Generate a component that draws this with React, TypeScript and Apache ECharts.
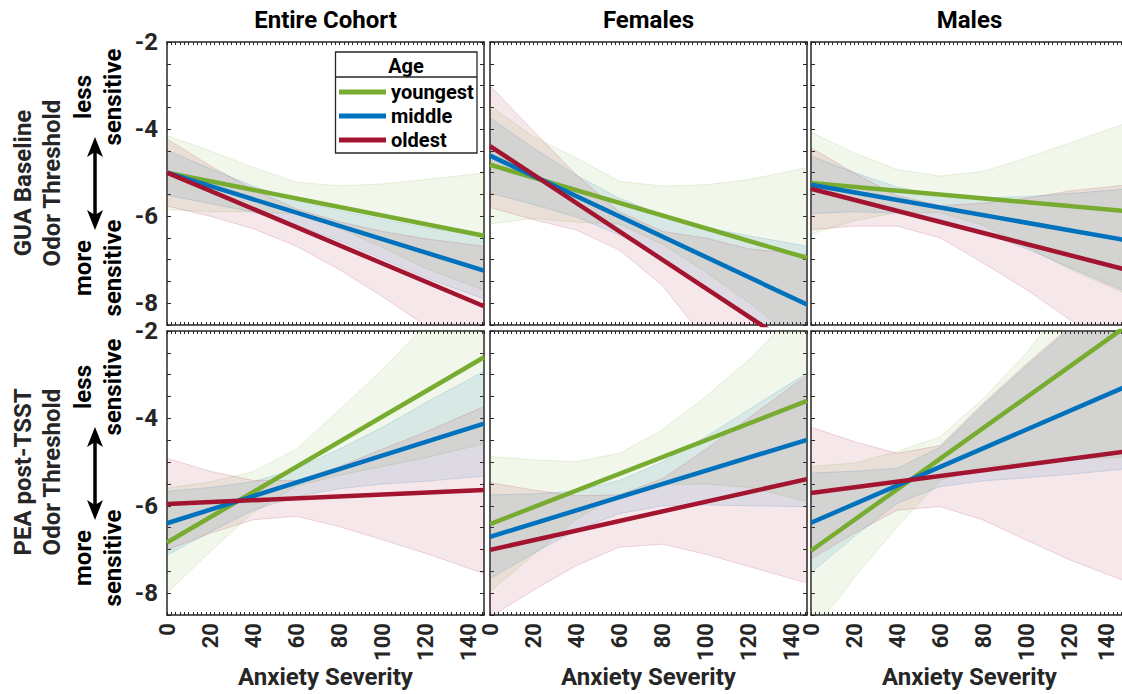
import React, { useEffect, useRef } from 'react';
import * as echarts from 'echarts';

// ---------------- data ----------------
const X_MIN = 0;
const X_MAX = 147;
const Y_MIN = -8.5;
const Y_MAX = -2;
const LINE_X = [0, 147];
const BAND_X = [0, 20, 40, 60, 80, 100, 120, 147];
const GROUPS = ['youngest', 'middle', 'oldest'];
const COLUMN_TITLES = ['Entire Cohort', 'Females', 'Males'];
const ROW_LABELS = ['GUA Baseline\nOdor Threshold', 'PEA post-TSST\nOdor Threshold'];
const UP_LABEL = 'less\nsensitive';
const DOWN_LABEL = 'more\nsensitive';
const LEGEND_TITLE = 'Age';
const X_AXIS_NAME = 'Anxiety Severity';
const X_TICK_LABELS = [0, 20, 40, 60, 80, 100, 120, 140];
const Y_TICK_LABELS = [-8, -6, -4, -2];

// fitted lines: [value at x=0, value at x=147] for youngest, middle, oldest
const GUA_ALL_LINES = [[-5.0, -6.45], [-5.0, -7.25], [-5.0, -8.07]];
const GUA_ALL_UPPER = [
  [-4.15, -4.5, -4.88, -5.22, -5.3, -5.26, -5.16, -5.01],
  [-4.48, -4.91, -5.31, -5.64, -5.87, -6.07, -6.26, -6.46],
  [-4.23, -4.84, -5.39, -5.83, -6.13, -6.35, -6.52, -6.69],
];
const GUA_ALL_LOWER = [
  [-5.85, -5.9, -5.9, -5.95, -6.28, -6.72, -7.2, -7.7],
  [-5.52, -5.71, -5.91, -6.2, -6.57, -6.99, -7.42, -7.9],
  [-5.77, -6.0, -6.29, -6.69, -7.23, -7.85, -8.52, -9.45],
];

const GUA_FEM_LINES = [[-4.82, -6.96], [-4.61, -8.03], [-4.39, -9.19]];
const GUA_FEM_UPPER = [
  [-3.46, -4.17, -4.66, -5.2, -5.31, -5.28, -5.16, -4.89],
  [-3.74, -4.43, -5.06, -5.59, -5.97, -6.26, -6.45, -6.69],
  [-3.0, -4.04, -5.05, -5.9, -6.35, -6.5, -6.75, -6.88],
];
const GUA_FEM_LOWER = [
  [-6.18, -6.05, -6.14, -6.18, -6.65, -7.28, -7.98, -9.03],
  [-5.47, -5.73, -6.02, -6.43, -6.97, -7.62, -8.35, -9.37],
  [-5.8, -6.08, -6.32, -6.78, -7.6, -8.85, -9.9, -11.5],
];

const GUA_MAL_LINES = [[-5.24, -5.89], [-5.28, -6.56], [-5.37, -7.24]];
const GUA_MAL_UPPER = [
  [-4.07, -4.55, -4.93, -5.08, -4.97, -4.66, -4.32, -3.85],
  [-4.62, -5.0, -5.33, -5.52, -5.58, -5.55, -5.48, -5.37],
  [-4.43, -5.01, -5.53, -5.76, -5.7, -5.59, -5.42, -5.28],
];
const GUA_MAL_LOWER = [
  [-6.41, -6.11, -5.91, -5.92, -6.21, -6.7, -7.22, -7.8],
  [-5.94, -5.9, -5.93, -6.08, -6.38, -6.75, -7.18, -7.75],
  [-6.31, -6.23, -6.23, -6.5, -7.08, -7.69, -8.38, -9.2],
];

const PEA_ALL_LINES = [[-6.84, -2.6], [-6.4, -4.12], [-5.96, -5.64]];
const PEA_ALL_UPPER = [
  [-5.6, -5.45, -5.22, -4.7, -3.8, -2.88, -1.85, -0.6],
  [-5.67, -5.58, -5.45, -5.15, -4.7, -4.2, -3.64, -2.92],
  [-4.91, -5.21, -5.42, -5.42, -5.1, -4.7, -4.31, -3.73],
];
const PEA_ALL_LOWER = [
  [-8.0, -7.05, -6.15, -5.55, -5.3, -5.1, -4.9, -4.58],
  [-7.13, -6.6, -6.1, -5.79, -5.61, -5.5, -5.44, -5.32],
  [-7.01, -6.63, -6.32, -6.24, -6.48, -6.78, -7.09, -7.55],
];

const PEA_FEM_LINES = [[-6.42, -3.6], [-6.71, -4.49], [-7.01, -5.39]];
const PEA_FEM_UPPER = [
  [-4.87, -4.95, -4.99, -4.8, -4.26, -3.5, -2.66, -1.3],
  [-5.75, -5.73, -5.66, -5.42, -5.0, -4.42, -3.8, -2.96],
  [-5.47, -5.64, -5.77, -5.75, -5.38, -4.71, -3.99, -3.01],
];
const PEA_FEM_LOWER = [
  [-7.97, -7.13, -6.31, -5.74, -5.52, -5.5, -5.58, -5.9],
  [-7.67, -7.09, -6.56, -6.18, -6.0, -5.98, -6.0, -6.02],
  [-8.55, -7.94, -7.37, -6.95, -6.88, -7.11, -7.39, -7.77],
];

const PEA_MAL_LINES = [[-7.03, -1.86], [-6.39, -3.25], [-5.71, -4.75]];
const PEA_MAL_UPPER = [
  [-5.1, -5.02, -4.76, -4.42, -3.54, -2.5, -1.2, 0.5],
  [-5.25, -5.21, -5.14, -4.66, -3.7, -2.8, -1.95, -1.0],
  [-4.2, -4.53, -4.8, -4.62, -3.65, -2.75, -1.9, -0.8],
];
const PEA_MAL_LOWER = [
  [-8.96, -7.64, -6.48, -5.42, -5.1, -5.0, -4.95, -4.88],
  [-7.53, -6.71, -5.94, -5.56, -5.43, -5.36, -5.28, -5.15],
  [-7.22, -6.63, -6.1, -6.02, -6.33, -6.79, -7.24, -7.75],
];

const PANEL_LINES = [GUA_ALL_LINES, GUA_FEM_LINES, GUA_MAL_LINES, PEA_ALL_LINES, PEA_FEM_LINES, PEA_MAL_LINES];
const PANEL_UPPER = [GUA_ALL_UPPER, GUA_FEM_UPPER, GUA_MAL_UPPER, PEA_ALL_UPPER, PEA_FEM_UPPER, PEA_MAL_UPPER];
const PANEL_LOWER = [GUA_ALL_LOWER, GUA_FEM_LOWER, GUA_MAL_LOWER, PEA_ALL_LOWER, PEA_FEM_LOWER, PEA_MAL_LOWER];

// ---------------- style / layout ----------------
const COLORS = ['#77AC30', '#0072BD', '#A2142F'];
const RGB = ['119,172,48', '0,114,189', '162,20,47'];
const GRID_LEFT = [167, 490, 811];
const GRID_TOP = [42, 331];
const GRID_W = 317;
const GRID_H = [283, 284];
const AXIS_COLOR = '#262626';
const FONT = 'Roboto';

function buildOption() {
  const grid: any[] = [];
  const xAxis: any[] = [];
  const yAxis: any[] = [];
  const series: any[] = [];
  const topX: any[] = [];
  const rightY: any[] = [];

  const axisLine = { show: true, onZero: false, lineStyle: { color: AXIS_COLOR, width: 1.5 } };
  const labelStyle = { fontFamily: FONT, fontWeight: 'bold', fontSize: 24, color: AXIS_COLOR };
  const xLabelStyle = { ...labelStyle, fontSize: 22 };

  for (let r = 0; r < 2; r++) {
    for (let c = 0; c < 3; c++) {
      const k = r * 3 + c;
      const lastCol = c === 2;
      grid.push({ left: GRID_LEFT[c], top: GRID_TOP[r], width: GRID_W, height: GRID_H[r], containLabel: false, outerBoundsMode: 'none' });
      const xBase = {
        gridIndex: k, type: 'value', min: X_MIN, max: X_MAX, interval: 2,
        axisLine, splitLine: { show: false },
        axisTick: { show: true, inside: true, length: 3, lineStyle: { color: AXIS_COLOR, width: 1 } },
      };
      xAxis.push({
        ...xBase, position: 'bottom',
        axisLabel: {
          show: r === 1, rotate: 90, margin: 8, ...xLabelStyle,
          // the last label of the right-most panel sits at the page edge: nudge it inward
          rich: { edge: { ...xLabelStyle, padding: [0, 0, 12, 0] } },
          formatter: (v: number) => {
            if (!X_TICK_LABELS.includes(v)) return '';
            if (lastCol && v === X_TICK_LABELS[X_TICK_LABELS.length - 1]) return `{edge|${v}}`;
            return String(v);
          },
        },
        name: r === 1 ? X_AXIS_NAME : '', nameLocation: 'middle', nameGap: 50,
        nameTextStyle: { ...labelStyle, fontSize: 24 },
      });
      topX.push({
        ...xBase, position: 'top', axisLabel: { show: false },
        name: r === 0 ? COLUMN_TITLES[c] : '', nameLocation: 'middle', nameGap: 10,
        nameTextStyle: { ...labelStyle, color: '#000' },
      });
      const yBase = {
        gridIndex: k, type: 'value', min: Y_MIN, max: Y_MAX, interval: 0.5,
        axisLine, splitLine: { show: false },
        axisTick: { show: true, inside: true, length: 4, lineStyle: { color: AXIS_COLOR, width: 1 } },
      };
      yAxis.push({
        ...yBase, position: 'left',
        axisLabel: {
          show: c === 0, margin: 9, ...labelStyle,
          formatter: (v: number) => (Y_TICK_LABELS.includes(v) ? String(v) : ''),
        },
      });
      rightY.push({ ...yBase, position: 'right', axisLabel: { show: false } });

      // confidence bands
      for (let g = 0; g < 3; g++) {
        const up = PANEL_UPPER[k][g];
        const lo = PANEL_LOWER[k][g];
        series.push({
          type: 'custom', name: GROUPS[g] + ' band', xAxisIndex: k, yAxisIndex: k,
          clip: true, silent: true, z: 1,
          data: BAND_X.map((x, i) => [x, lo[i], up[i]]),
          encode: { x: 0, y: [1, 2] },
          renderItem: (params: any, api: any) => {
            if (params.dataIndex !== 0) return null;
            const top = BAND_X.map((x, i) => api.coord([x, up[i]]));
            const bottom = BAND_X.map((x, i) => api.coord([x, lo[i]])).reverse();
            return {
              type: 'polygon',
              shape: { points: top.concat(bottom) },
              style: { fill: `rgba(${RGB[g]},0.1)`, stroke: `rgba(${RGB[g]},0.22)`, lineWidth: 0.7 },
            };
          },
        });
      }
      // fitted lines
      for (let g = 0; g < 3; g++) {
        const ys = PANEL_LINES[k][g];
        series.push({
          type: 'line', name: GROUPS[g], xAxisIndex: k, yAxisIndex: k,
          data: LINE_X.map((x, i) => [x, ys[i]]),
          symbol: 'none', clip: true, z: 3, silent: true,
          itemStyle: { color: COLORS[g] },
          lineStyle: { color: COLORS[g], width: 4.5, cap: 'butt' },
        });
      }
    }
  }

  const txt = (x: number, y: number, text: string, size: number, lh: number, rot = 0, color = AXIS_COLOR) => ({
    type: 'text', x, y, rotation: rot,
    style: {
      text, fill: color, fontFamily: FONT, fontWeight: 'bold', fontSize: size, lineHeight: lh,
      textAlign: 'center', textVerticalAlign: 'middle', align: 'center', verticalAlign: 'middle',
    },
  });
  const arrow = (x: number, y1: number, y2: number) => [
    { type: 'line', shape: { x1: x, y1: y1 + 14, x2: x, y2: y2 - 14 }, style: { stroke: '#000', lineWidth: 3.5 } },
    { type: 'polygon', shape: { points: [[x, y1], [x + 8, y1 + 20], [x, y1 + 15], [x - 8, y1 + 20]] }, style: { fill: '#000' } },
    { type: 'polygon', shape: { points: [[x, y2], [x + 8, y2 - 20], [x, y2 - 15], [x - 8, y2 - 20]] }, style: { fill: '#000' } },
  ];

  const graphic: any[] = [
    txt(37, 183, ROW_LABELS[0], 24, 29, Math.PI / 2),
    txt(37, 472, ROW_LABELS[1], 24, 29, Math.PI / 2),
    txt(98, 97, UP_LABEL, 24, 30, Math.PI / 2, '#000'),
    txt(98, 268, DOWN_LABEL, 24, 30, Math.PI / 2, '#000'),
    txt(98, 387, UP_LABEL, 24, 30, Math.PI / 2, '#000'),
    txt(98, 558, DOWN_LABEL, 24, 30, Math.PI / 2, '#000'),
    ...arrow(95, 137, 230),
    ...arrow(95, 427, 520),
    { type: 'rect', z: 0, shape: { x: 335.5, y: 52, width: 141.5, height: 101 }, style: { fill: '#fff', stroke: AXIS_COLOR, lineWidth: 1.3 } },
    { type: 'line', z: 1, shape: { x1: 335.5, y1: 77, x2: 477, y2: 77 }, style: { stroke: AXIS_COLOR, lineWidth: 1.3 } },
    txt(406, 65.5, LEGEND_TITLE, 20, 22, 0, '#000'),
  ];

  return {
    animation: false,
    backgroundColor: '#fff',
    grid,
    xAxis: [...xAxis, ...topX],
    yAxis: [...yAxis, ...rightY],
    legend: {
      data: GROUPS, orient: 'vertical', left: 339, top: 82, z: 10,
      icon: 'rect', itemWidth: 47, itemHeight: 5, itemGap: 4, padding: 0,
      selectedMode: false,
      textStyle: { fontFamily: FONT, fontWeight: 'bold', fontSize: 20, color: '#000' },
    },
    graphic,
    series,
  };
}

export default function App() {
  const ref = useRef<HTMLDivElement>(null);
  useEffect(() => {
    if (!ref.current) return;
    const chart = echarts.init(ref.current, undefined, { renderer: 'svg' });
    chart.setOption(buildOption() as any);
    return () => chart.dispose();
  }, []);
  return <div ref={ref} style={{ position: 'absolute', left: 0, top: 0, width: 1122, height: 694 }} />;
}
